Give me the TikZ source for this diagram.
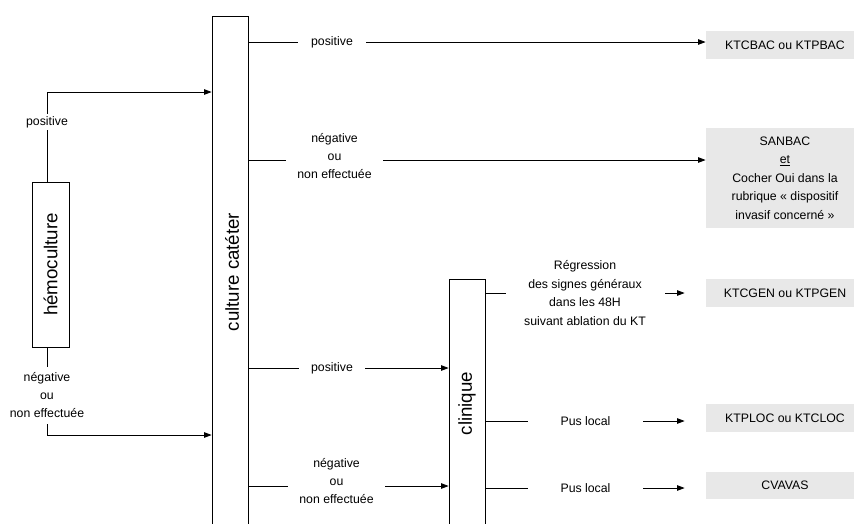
\documentclass[tikz,border=0pt]{standalone}
\usepackage{fontspec}
\setmainfont{Liberation Sans}
\usetikzlibrary{arrows.meta,calc}
\definecolor{resgray}{HTML}{E8E8E8}
\begin{document}
\begin{tikzpicture}[x=1pt,y=-1pt,
  line width=0.8pt,
  sm/.style={font=\fontsize{12.3}{18.4}\selectfont},
  big/.style={font=\fontsize{18.7}{22}\selectfont},
  vbox/.style={draw, rectangle, inner sep=0pt},
  res/.style={fill=resgray, rectangle, inner sep=0pt, minimum width=158, minimum height=28, sm, align=center},
  lab/.style={fill=white, inner sep=1pt, sm, align=center},
  arr/.style={-{Triangle[length=7.5pt,width=5.5pt]}},
]
\useasboundingbox (0,0) rectangle (854,523);

% boxes
\node[vbox, minimum width=37, minimum height=165] (hemo) at (50.5,264.5) {};
\node[big, rotate=90] (hemot) at (50.5,264.5) {hémoculture};
\node[vbox, minimum width=36, minimum height=560] (cult) at (230,296) {};
\node[big, rotate=90] (cultt) at (232,272) {culture catéter};
\node[vbox, minimum width=36, minimum height=300] (clin) at (467,429) {};
\node[big, rotate=90] (clint) at (467,403.5) {clinique};

\node[res] (b1) at (785,45) {KTCBAC ou KTPBAC};
\node[res, minimum height=100] (b2) at (785,178) {SANBAC\\\underline{et}\\Cocher Oui dans la\\rubrique « dispositif\\invasif concerné »};
\node[res] (b3) at (785,293) {KTCGEN ou KTPGEN};
\node[res] (b4) at (785,418) {KTPLOC ou KTCLOC};
\node[res, minimum height=27] (b5) at (785,485.5) {CVAVAS};

% row coordinates
\coordinate (hx) at (47,0);
\coordinate (ra) at (0,92);
\coordinate (rb) at (0,435);
\coordinate (r1) at (0,42);
\coordinate (r2) at (0,160);
\coordinate (r3) at (0,368);
\coordinate (r4) at (0,486);
\coordinate (r5) at (0,293);
\coordinate (r6) at (0,421);
\coordinate (r7) at (0,488);

% connectors
\draw[arr] (hemo.north -| hx) -- (hx |- ra) -- (cult.west |- ra);
\draw[arr] (hemo.south -| hx) -- (hx |- rb) -- (cult.west |- rb);
\draw[arr] (cult.east |- r1) -- (b1.west |- r1);
\draw[arr] (cult.east |- r2) -- (b2.west |- r2);
\draw[arr] (cult.east |- r3) -- (clin.west |- r3);
\draw[arr] (cult.east |- r4) -- (clin.west |- r4);
\draw[arr, shorten >=21pt] (clin.east |- r5) -- (b3.west |- r5);
\draw[arr, shorten >=21pt] (clin.east |- r6) -- (b4.west |- r6);
\draw[arr, shorten >=21pt] (clin.east |- r7) -- (b5.west |- r7);

% labels
\node[lab, minimum height=16] (lpa) at (47,122) {positive};
\node[lab, minimum height=57] (lpb) at (47,395) {négative\\ou\\non effectuée};
\node[lab, minimum width=68] (l1) at (332,42) {positive};
\node[lab, minimum width=97] (l2) at (334.5,156) {négative\\ou\\non effectuée};
\node[lab, minimum width=66] (l3) at (332,368) {positive};
\node[lab, minimum width=97] (l4) at (336.5,481) {négative\\ou\\non effectuée};
\node[lab, minimum width=159] (l5) at (585,293) {Régression\\des signes généraux\\dans les 48H\\suivant ablation du KT};
\node[lab, minimum width=115] (l6) at (585.5,421) {Pus local};
\node[lab, minimum width=115] (l7) at (585.5,488) {Pus local};
\end{tikzpicture}
\end{document}
